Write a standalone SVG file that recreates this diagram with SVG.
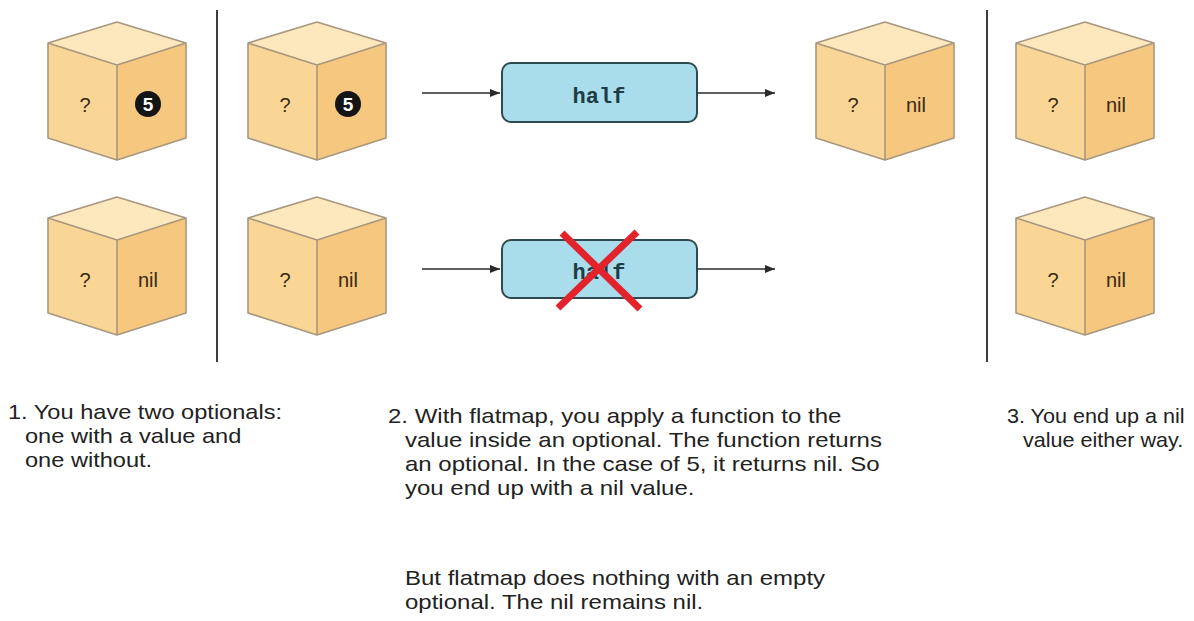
<svg xmlns="http://www.w3.org/2000/svg" xmlns:xlink="http://www.w3.org/1999/xlink" width="1194" height="621" viewBox="0 0 1194 621">
  <style>
    .top { fill: #fde7bd; }
    .left { fill: #f9d596; }
    .right { fill: #f6c87f; }
    .edge { fill: none; stroke: #a8977f; stroke-width: 1.6; stroke-linejoin: round; }
    .face-label { font-family: "Liberation Sans", Arial, sans-serif; font-size: 20px; fill: #3a2a14; text-anchor: middle; }
    .badge { fill: #141414; }
    .badge-num { font-family: "Liberation Sans", Arial, sans-serif; font-size: 19px; font-weight: bold; fill: #ffffff; text-anchor: middle; }
    .func { fill: #a9ddeb; stroke: #2f4a4f; stroke-width: 2; }
    .func-label { font-family: "Liberation Mono", "Courier New", monospace; font-size: 22px; font-weight: bold; fill: #1d3c44; text-anchor: middle; }
    .flow { stroke: #2a2a2a; stroke-width: 1.6; fill: none; }
    .divider { stroke: #3c3c3c; stroke-width: 2; }
    .cross { stroke: #e3232b; stroke-width: 7; stroke-linecap: butt; }
    .caption { font-family: "Liberation Sans", Arial, sans-serif; font-size: 20px; fill: #222222; }
  </style>
  <defs>
    <marker id="arrowhead" viewBox="0 0 10 10" refX="10" refY="5" markerWidth="10" markerHeight="10" markerUnits="userSpaceOnUse" orient="auto">
      <path d="M0,1 L10,5 L0,9 Z" fill="#2a2a2a"/>
    </marker>
    <!-- isometric box, origin at the top vertex -->
    <g id="cube">
      <path class="top" d="M0,0 L69,21 L0,43 L-69,21 Z"/>
      <path class="left" d="M-69,21 L0,43 L0,138 L-69,116 Z"/>
      <path class="right" d="M0,43 L69,21 L69,116 L0,138 Z"/>
      <path class="edge" d="M0,0 L69,21 L69,116 L0,138 L-69,116 L-69,21 Z M-69,21 L0,43 L69,21 M0,43 L0,138"/>
    </g>
  </defs>

  <rect width="1194" height="621" fill="#ffffff"/>

  <!-- column dividers -->
  <line class="divider" x1="217" y1="10" x2="217" y2="362"/>
  <line class="divider" x1="987" y1="10" x2="987" y2="362"/>

  <!-- inputs: optional holding 5, empty optional -->
  <g id="opt-five">
    <g transform="translate(117,22)">
      <use xlink:href="#cube"/>
      <text class="face-label" x="-32" y="90">?</text>
      <circle class="badge" cx="31" cy="82" r="13"/>
      <text class="badge-num" x="31" y="89">5</text>
    </g>
  </g>
  <g id="opt-empty">
    <g transform="translate(117,197)">
      <use xlink:href="#cube"/>
      <text class="face-label" x="-32" y="90">?</text>
      <text class="face-label" x="31" y="90">nil</text>
    </g>
  </g>

  <g id="in-five">
    <g transform="translate(317,22)">
      <use xlink:href="#cube"/>
      <text class="face-label" x="-32" y="90">?</text>
      <circle class="badge" cx="31" cy="82" r="13"/>
      <text class="badge-num" x="31" y="89">5</text>
    </g>
  </g>
  <g id="in-empty">
    <g transform="translate(317,197)">
      <use xlink:href="#cube"/>
      <text class="face-label" x="-32" y="90">?</text>
      <text class="face-label" x="31" y="90">nil</text>
    </g>
  </g>

  <!-- the function applied by flatMap -->
  <g id="half-applied">
    <rect class="func" x="502" y="63" width="195" height="59" rx="9"/>
    <text class="func-label" x="599" y="103">half</text>
  </g>
  <g id="half-skipped">
    <rect class="func" x="502" y="240" width="195" height="58" rx="9"/>
    <text class="func-label" x="599" y="279">half</text>
    <line class="cross" x1="562" y1="233" x2="640" y2="309"/>
    <line class="cross" x1="637" y1="232" x2="558" y2="308"/>
  </g>

  <!-- results -->
  <g id="out-nil">
    <g transform="translate(885,22)">
      <use xlink:href="#cube"/>
      <text class="face-label" x="-32" y="90">?</text>
      <text class="face-label" x="31" y="90">nil</text>
    </g>
  </g>
  <g id="result-top">
    <g transform="translate(1085,22)">
      <use xlink:href="#cube"/>
      <text class="face-label" x="-32" y="90">?</text>
      <text class="face-label" x="31" y="90">nil</text>
    </g>
  </g>
  <g id="result-bottom">
    <g transform="translate(1085,197)">
      <use xlink:href="#cube"/>
      <text class="face-label" x="-32" y="90">?</text>
      <text class="face-label" x="31" y="90">nil</text>
    </g>
  </g>

  <!-- connectors -->
  <g id="connectors">
    <line class="flow" x1="422" y1="93" x2="500" y2="93" marker-end="url(#arrowhead)"/>
    <line class="flow" x1="697" y1="93" x2="775" y2="93" marker-end="url(#arrowhead)"/>
    <line class="flow" x1="422" y1="269" x2="500" y2="269" marker-end="url(#arrowhead)"/>
    <line class="flow" x1="697" y1="269" x2="775" y2="269" marker-end="url(#arrowhead)"/>
  </g>

  <!-- captions: set in a horizontally widened face -->
  <g id="caption-1" transform="translate(8,0) scale(1.18,1)">
    <text class="caption" x="0" y="419">1. You have two optionals:</text>
    <text class="caption" x="14.4" y="443">one with a value and</text>
    <text class="caption" x="14.4" y="467">one without.</text>
  </g>
  <g id="caption-2" transform="translate(388,0) scale(1.2,1)">
    <text class="caption" x="0" y="423">2. With flatmap, you apply a function to the</text>
    <text class="caption" x="14.2" y="447">value inside an optional. The function returns</text>
    <text class="caption" x="14.2" y="471">an optional. In the case of 5, it returns nil. So</text>
    <text class="caption" x="14.2" y="495">you end up with a nil value.</text>
    <text class="caption" x="14.2" y="585">But flatmap does nothing with an empty</text>
    <text class="caption" x="14.2" y="609">optional. The nil remains nil.</text>
  </g>
  <g id="caption-3" transform="translate(1007,0) scale(1.08,1)">
    <text class="caption" x="0" y="423">3. You end up a nil</text>
    <text class="caption" x="14.8" y="447">value either way.</text>
  </g>
</svg>
